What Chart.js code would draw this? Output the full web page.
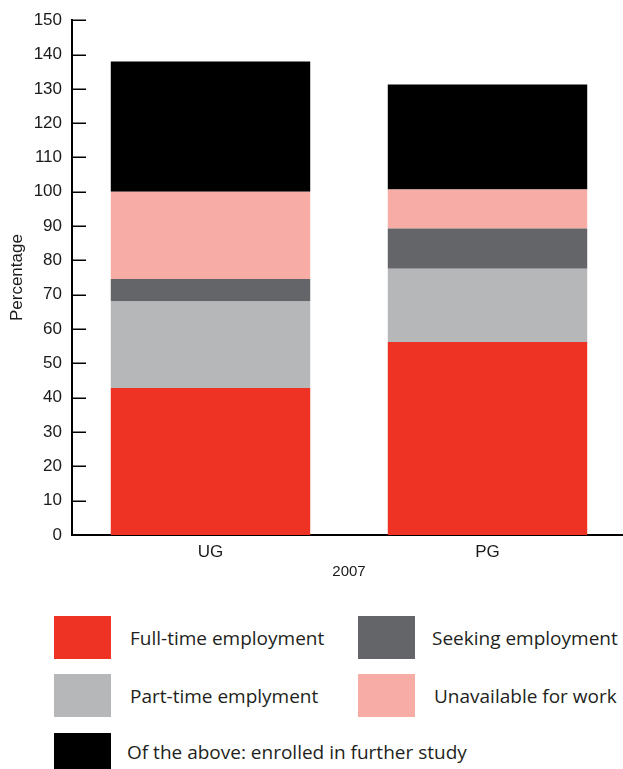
<!DOCTYPE html>
<html lang="en">
<head>
    <meta charset="UTF-8">
    <title>Destinations 2007 - UG and PG</title>
    <script src="https://cdn.jsdelivr.net/npm/chart.js"></script>
    <style>
        body {
            margin: 0;
            padding: 0;
            background: #fff;
            overflow: hidden;
            width: 623px;
            height: 769px;
            position: relative;
        }
        #chart {
            position: absolute;
            left: 0;
            top: 0;
        }
        .legend-item {
            position: absolute;
            font-family: "Open Sans", sans-serif;
            font-size: 19px;
            line-height: 24px;
            color: #231f20;
            white-space: nowrap;
        }
        .legend-box {
            position: absolute;
            width: 57px;
            height: 43px;
        }
    </style>
</head>
<body>
    <canvas id="chart" width="626" height="600"></canvas>
    <div id="legend"></div>

    <script>
        // data
        const categories = ['UG', 'PG'];
        const fullTime = [42.8, 56.2];
        const partTime = [25.2, 21.4];
        const seeking = [6.6, 11.7];
        const unavailable = [25.4, 11.4];
        const furtherStudy = [38.0, 30.6];

        const seriesNames = ['Full-time employment', 'Part-time emplyment', 'Seeking employment', 'Unavailable for work', 'Of the above: enrolled in further study'];
        const seriesColors = ['#ee3224', '#b6b7b9', '#646569', '#f7ada6', '#000000'];
        const seriesValues = [fullTime, partTime, seeking, unavailable, furtherStudy];

        const yTitle = 'Percentage';
        const xTitle = '2007';

        const fontFamily = '"Liberation Sans", Arial, sans-serif';
        const textColor = '#1a1a1a';

        // short tick marks pointing into the plot
        const innerTicks = {
            id: 'innerTicks',
            afterDraw(chart) {
                const y = chart.scales.y;
                const ctx = chart.ctx;
                ctx.save();
                ctx.strokeStyle = '#000';
                ctx.lineWidth = 1.5;
                y.ticks.forEach(t => {
                    const py = Math.round(y.getPixelForValue(t.value)) + 0.25;
                    ctx.beginPath();
                    ctx.moveTo(chart.chartArea.left, py);
                    ctx.lineTo(chart.chartArea.left + 14, py);
                    ctx.stroke();
                });
                ctx.restore();
            }
        };

        const ctx = document.getElementById('chart').getContext('2d');
        new Chart(ctx, {
            type: 'bar',
            data: {
                labels: categories,
                datasets: seriesValues.map((vals, i) => ({
                    label: seriesNames[i],
                    data: vals,
                    backgroundColor: seriesColors[i],
                    borderWidth: 0,
                    categoryPercentage: 1,
                    barPercentage: 0.72
                }))
            },
            options: {
                responsive: false,
                animation: false,
                layout: { padding: { top: 18, left: 0, right: 0, bottom: 0 } },
                plugins: {
                    legend: { display: false },
                    tooltip: { enabled: false }
                },
                scales: {
                    x: {
                        stacked: true,
                        grid: { display: false, drawTicks: false },
                        border: { color: '#000', width: 2 },
                        ticks: { color: textColor, font: { family: fontFamily, size: 17 }, padding: 7 },
                        title: {
                            display: true,
                            text: xTitle,
                            color: textColor,
                            font: { family: fontFamily, size: 15 },
                            padding: { top: 4, bottom: 19 }
                        },
                        afterFit(scale) { scale.height = 65; }
                    },
                    y: {
                        stacked: true,
                        min: 0,
                        max: 150,
                        grid: { display: false, drawTicks: false },
                        border: { color: '#000', width: 2 },
                        ticks: { stepSize: 10, color: textColor, font: { family: fontFamily, size: 17 }, padding: 10 },
                        title: {
                            display: true,
                            text: yTitle,
                            color: textColor,
                            font: { family: fontFamily, size: 17 },
                            padding: { top: 7, bottom: 0 }
                        },
                        afterFit(scale) { scale.width = 72; }
                    }
                }
            },
            plugins: [innerTicks]
        });

        // legend below the chart, two columns
        const legendSpots = [
            { box: [54, 616], text: [130, 638] },
            { box: [54, 674], text: [130, 696] },
            { box: [358, 616], text: [432, 638] },
            { box: [358, 674], text: [434, 696] },
            { box: [54, 733], text: [127, 752] }
        ];
        const legendEl = document.getElementById('legend');
        seriesNames.forEach((name, i) => {
            const spot = legendSpots[i];
            const box = document.createElement('div');
            box.className = 'legend-box';
            box.style.left = spot.box[0] + 'px';
            box.style.top = spot.box[1] + 'px';
            box.style.background = seriesColors[i];
            legendEl.appendChild(box);

            const label = document.createElement('div');
            label.className = 'legend-item';
            label.textContent = name;
            label.style.left = spot.text[0] + 'px';
            label.style.top = (spot.text[1] - 12) + 'px';
            legendEl.appendChild(label);
        });
    </script>
</body>
</html>
